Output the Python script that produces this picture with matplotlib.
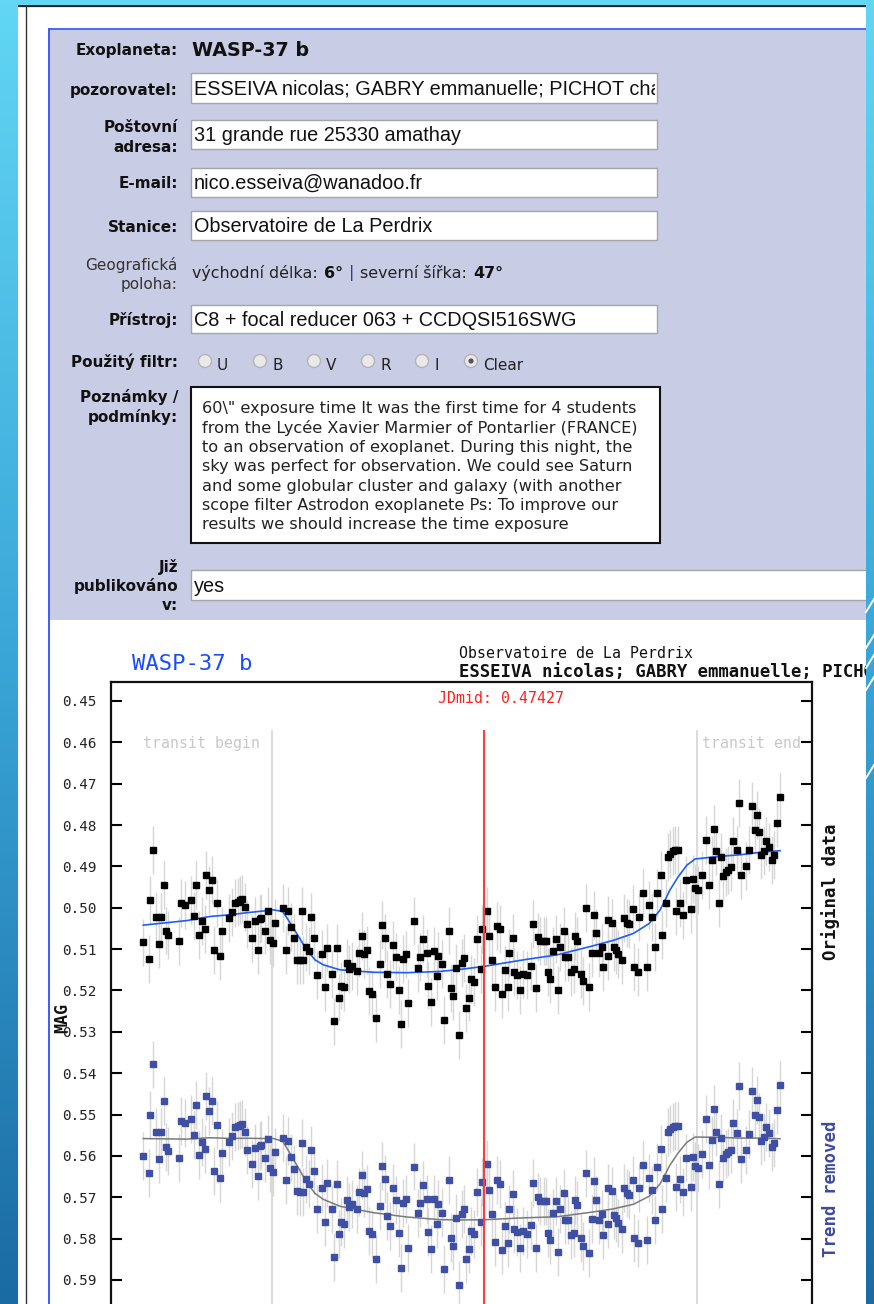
import numpy as np
import matplotlib.pyplot as plt
from matplotlib.patches import Rectangle, Circle
from matplotlib.colors import LinearSegmentedColormap
from matplotlib.transforms import Bbox

# light curve of WASP-37 b: JD fraction and measured magnitude
jd = [0.3834, 0.3850, 0.3854, 0.3862, 0.3869, 0.3878, 0.3881, 0.3889, 0.3895, 0.3902,
      0.3929, 0.3936, 0.3945, 0.3963, 0.3969, 0.3976, 0.3983, 0.3991, 0.3998, 0.4003,
      0.4011, 0.4017, 0.4024, 0.4032, 0.4040, 0.4045, 0.4064, 0.4070, 0.4080, 0.4087,
      0.4092, 0.4097, 0.4106, 0.4112, 0.4125, 0.4132, 0.4140, 0.4146, 0.4149, 0.4160,
      0.4167, 0.4172, 0.4181, 0.4185, 0.4208, 0.4215, 0.4220, 0.4227, 0.4235, 0.4245,
      0.4253, 0.4256, 0.4261, 0.4267, 0.4275, 0.4281, 0.4290, 0.4296, 0.4310, 0.4319,
      0.4323, 0.4338, 0.4343, 0.4350, 0.4357, 0.4361, 0.4368, 0.4376, 0.4383, 0.4390,
      0.4404, 0.4409, 0.4416, 0.4422, 0.4430, 0.4436, 0.4443, 0.4454, 0.4465, 0.4471,
      0.4478, 0.4484, 0.4492, 0.4499, 0.4506, 0.4514, 0.4521, 0.4527, 0.4533, 0.4540,
      0.4554, 0.4567, 0.4572, 0.4579, 0.4589, 0.4593, 0.4601, 0.4609, 0.4616, 0.4619,
      0.4629, 0.4636, 0.4649, 0.4654, 0.4660, 0.4667, 0.4675, 0.4683, 0.4689, 0.4694,
      0.4702, 0.4708, 0.4716, 0.4724, 0.4733, 0.4735, 0.4749, 0.4756, 0.4763, 0.4771,
      0.4776, 0.4784, 0.4790, 0.4798, 0.4804, 0.4809, 0.4818, 0.4822, 0.4830, 0.4837,
      0.4845, 0.4855, 0.4866, 0.4871, 0.4879, 0.4884, 0.4891, 0.4900, 0.4907, 0.4912,
      0.4918, 0.4925, 0.4934, 0.4938, 0.4944, 0.4954, 0.4957, 0.4964, 0.4972, 0.4982,
      0.4984, 0.4990, 0.4999, 0.5006, 0.5013, 0.5021, 0.5029, 0.5033, 0.5039, 0.5048,
      0.5054, 0.5059, 0.5070, 0.5072, 0.5081, 0.5087, 0.5092, 0.5098, 0.5108, 0.5115,
      0.5121, 0.5127, 0.5137, 0.5141, 0.5150, 0.5155, 0.5165, 0.5176, 0.5181, 0.5189,
      0.5196, 0.5202, 0.5212, 0.5216, 0.5225, 0.5230, 0.5235, 0.5243, 0.5250, 0.5253,
      0.5257, 0.5262, 0.5271, 0.5279, 0.5292, 0.5297, 0.5304, 0.5310, 0.5320, 0.5332,
      0.5339, 0.5348, 0.5352, 0.5359, 0.5367, 0.5372, 0.5377, 0.5384, 0.5391, 0.5398,
      0.5405, 0.5415, 0.5419, 0.5426, 0.5439, 0.5447, 0.5453, 0.5461, 0.5467, 0.5473,
      0.5479, 0.5485, 0.5491, 0.5499, 0.5507, 0.5514, 0.5521, 0.5529]
mag = [0.5084, 0.5123, 0.4982, 0.4860, 0.5022, 0.5088, 0.5022, 0.4946, 0.5055, 0.5066,
       0.5080, 0.4989, 0.4993, 0.4982, 0.5019, 0.4946, 0.5066, 0.5033, 0.5051, 0.4921,
       0.4957, 0.4932, 0.5101, 0.4989, 0.5116, 0.5055, 0.5025, 0.5010, 0.4989, 0.4985,
       0.4981, 0.4978, 0.4997, 0.5039, 0.5073, 0.5033, 0.5101, 0.5028, 0.5025, 0.5055,
       0.5007, 0.5078, 0.5086, 0.5037, 0.5000, 0.5101, 0.5007, 0.5046, 0.5073, 0.5126,
       0.5126, 0.5007, 0.5126, 0.5094, 0.5105, 0.5022, 0.5072, 0.5163, 0.5112, 0.5192,
       0.5098, 0.5159, 0.5275, 0.5098, 0.5217, 0.5188, 0.5192, 0.5134, 0.5148, 0.5141,
       0.5152, 0.5109, 0.5069, 0.5112, 0.5101, 0.5202, 0.5209, 0.5267, 0.5137, 0.5041,
       0.5072, 0.5159, 0.5184, 0.5091, 0.5119, 0.5199, 0.5282, 0.5123, 0.5113, 0.5231,
       0.5033, 0.5145, 0.5119, 0.5076, 0.5109, 0.5188, 0.5228, 0.5105, 0.5166, 0.5116,
       0.5137, 0.5271, 0.5055, 0.5195, 0.5213, 0.5145, 0.5307, 0.5133, 0.5122, 0.5242,
       0.5217, 0.5173, 0.5180, 0.5076, 0.5149, 0.5051, 0.5007, 0.5069, 0.5126, 0.5192,
       0.5043, 0.5051, 0.5209, 0.5151, 0.5192, 0.5109, 0.5072, 0.5155, 0.5163, 0.5199,
       0.5159, 0.5163, 0.5141, 0.5040, 0.5195, 0.5071, 0.5080, 0.5080, 0.5080, 0.5155,
       0.5173, 0.5105, 0.5076, 0.5199, 0.5094, 0.5055, 0.5119, 0.5119, 0.5155, 0.5148,
       0.5069, 0.5080, 0.5159, 0.5177, 0.5001, 0.5192, 0.5109, 0.5018, 0.5062, 0.5109,
       0.5094, 0.5144, 0.5116, 0.5029, 0.5036, 0.5094, 0.5101, 0.5112, 0.5126, 0.5025,
       0.5036, 0.5040, 0.5004, 0.5144, 0.5155, 0.5022, 0.4964, 0.5144, 0.4993, 0.5022,
       0.5094, 0.4964, 0.4921, 0.5065, 0.4989, 0.4877, 0.4870, 0.4863, 0.4860, 0.5007,
       0.4860, 0.4989, 0.5018, 0.4934, 0.5004, 0.4931, 0.4953, 0.4957, 0.4921, 0.4835,
       0.4946, 0.4884, 0.4809, 0.4863, 0.4989, 0.4877, 0.4924, 0.4914, 0.4909, 0.4902,
       0.4838, 0.4860, 0.4747, 0.4921, 0.4899, 0.4860, 0.4755, 0.4812, 0.4776, 0.4816,
       0.4873, 0.4863, 0.4838, 0.4852, 0.4884, 0.4873, 0.4794, 0.4733]
MAG_ERR = 0.0058

# fitted transit model (original scale)
model_jd = [0.3835, 0.3951, 0.4013, 0.4066, 0.4110, 0.4163, 0.4181, 0.4206, 0.4221,
            0.4243, 0.4270, 0.4292, 0.4314, 0.4358, 0.4447, 0.4536, 0.4624, 0.4678,
            0.4740, 0.4846, 0.4935, 0.5023, 0.5085, 0.5139, 0.5181, 0.5210, 0.5236,
            0.5258, 0.5281, 0.5303, 0.5334, 0.5378, 0.5422, 0.5476, 0.5529]
model_mag = [0.5042, 0.5031, 0.5021, 0.5017, 0.5012, 0.5007, 0.5005, 0.5009, 0.5030,
             0.5062, 0.5102, 0.5126, 0.5138, 0.5150, 0.5156, 0.5157, 0.5154, 0.5149,
             0.5142, 0.5126, 0.5114, 0.5094, 0.5079, 0.5062, 0.5038, 0.5005, 0.4957,
             0.4925, 0.4897, 0.4882, 0.4879, 0.4875, 0.4872, 0.4866, 0.4862]

# linear trend (plus display offset) taken out for the lower curve
TREND_REF = 0.3834
TREND_ZERO = 0.0516
TREND_SLOPE = 0.1065

JD_MID = 0.47427
T_BEGIN = 0.4177
T_END = 0.5308

W, H = 874, 1304
LABEL_FONT = 'DejaVu Sans'
INPUT_FONT = 'Liberation Sans'
MONO = 'DejaVu Sans Mono'

fig = plt.figure(figsize=(W / 100, H / 100), dpi=100)
fig.patch.set_facecolor('white')

page = fig.add_axes([0, 0, 1, 1])
page.set_xlim(0, W)
page.set_ylim(H, 0)
page.axis('off')
renderer = fig.canvas.get_renderer()


def clip_box(x0, y0, x1, y1):
    # display-space rectangle for clipping text (page units are pixels, y downwards)
    pts = page.transData.transform([(x0, y0), (x1, y1)])
    return Bbox.from_extents(pts[:, 0].min(), pts[:, 1].min(), pts[:, 0].max(), pts[:, 1].max())


# form panel
page.add_patch(Rectangle((49, 29), 866 - 49, 620 - 29, facecolor='#c8cce5', edgecolor='none'))
page.plot([49, 866], [29, 29], color='#4a68f0', lw=1.4)
page.plot([49, 49], [29, H], color='#3a5cff', lw=1.4)
page.plot([18, 866], [6, 6], color='#222222', lw=1.6)
page.plot([26, 26], [6, H], color='#333333', lw=1.0)


def label(lines, ys, bold=True, color='#111111'):
    for s, y in zip(lines, ys):
        page.text(178, y, s, ha='right', va='center', fontsize=11, family=LABEL_FONT,
                  fontweight='bold' if bold else 'normal', color=color)


def field(y0, y1, value, x1=657):
    box = Rectangle((191, y0), x1 - 191, y1 - y0, facecolor='white', edgecolor='#a5a5a5', lw=1.0)
    page.add_patch(box)
    t = page.text(194, (y0 + y1) / 2 + 1, value, ha='left', va='center', fontsize=14.3,
                  family=INPUT_FONT, color='#111111')
    t.set_clip_on(True)
    t.set_clip_box(clip_box(192, y0, x1 - 2, y1))


label(['Exoplaneta:'], [50])
page.text(192, 50, 'WASP-37 b', ha='left', va='center', fontsize=13.8, family=LABEL_FONT,
          fontweight='bold', color='#111111')

label(['pozorovatel:'], [90])
field(73, 103, 'ESSEIVA nicolas; GABRY emmanuelle; PICHOT cha')

label(['Poštovní', 'adresa:'], [127, 147])
field(120, 149, '31 grande rue 25330 amathay')

label(['E-mail:'], [183])
field(168, 197, 'nico.esseiva@wanadoo.fr')

label(['Stanice:'], [227])
field(211, 240, 'Observatoire de La Perdrix')

label(['Geografická', 'poloha:'], [265, 284], bold=False, color='#333333')
# location line: pieces laid out one after another
geo_parts = [('východní délka:', 'normal', '#222222'), ('6°', 'bold', '#111111'),
             ('|', 'normal', '#3a3a8a'), ('severní šířka:', 'normal', '#222222'),
             ('47°', 'bold', '#111111')]
gx = 192
for s, w, c in geo_parts:
    txt = page.text(gx, 273, s, ha='left', va='center', fontsize=11.4, family=LABEL_FONT,
                    fontweight=w, color=c)
    gx += txt.get_window_extent(renderer).width + 6

label(['Přístroj:'], [320])
field(305, 333, 'C8 + focal reducer 063 + CCDQSI516SWG')

label(['Použitý filtr:'], [362])
filters = ['U', 'B', 'V', 'R', 'I', 'Clear']
radio_x = [205, 260, 314, 368, 422, 471]
for f, x in zip(filters, radio_x):
    page.add_patch(Circle((x, 361), 6.5, facecolor='#e9e9e9', edgecolor='#b4b4b4', lw=1.0))
    if f == 'Clear':
        page.add_patch(Circle((x, 361), 2.6, facecolor='#555555', edgecolor='none'))
    page.text(x + 12, 365, f, ha='left', va='center', fontsize=11, family=LABEL_FONT,
              color='#222222')

label(['Poznámky /', 'podmínky:'], [397, 417])
page.add_patch(Rectangle((191, 387), 660 - 191, 543 - 387, facecolor='white',
                         edgecolor='#111111', lw=1.5))
notes = ['60\\" exposure time It was the first time for 4 students',
         'from the Lycée Xavier Marmier of Pontarlier (FRANCE)',
         'to an observation of exoplanet. During this night, the',
         'sky was perfect for observation. We could see Saturn',
         'and some globular cluster and galaxy (with another',
         'scope filter Astrodon exoplanete Ps: To improve our',
         'results we should increase the time exposure']
for i, line in enumerate(notes):
    page.text(202, 409 + 19.3 * i, line, ha='left', va='center', fontsize=11.6,
              family=LABEL_FONT, color='#222222')

label(['Již', 'publikováno', 'v:'], [567, 586, 606])
field(570, 600, 'yes', x1=870)

# chart header
page.text(132, 664, 'WASP-37 b', ha='left', va='center', fontsize=16, family=MONO,
          color='#1a4cff')
page.text(459, 653, 'Observatoire de La Perdrix', ha='left', va='center', fontsize=10.7,
          family=MONO, color='#111111')
observers = page.text(459, 672, 'ESSEIVA nicolas; GABRY emmanuelle; PICHOT cha', ha='left',
                      va='center', fontsize=12.4, family=MONO, fontweight='bold',
                      color='#111111')
observers.set_clip_on(True)
observers.set_clip_box(clip_box(450, 640, 866, 690))
page.text(62, 1018, 'MAG', rotation=90, ha='center', va='center', fontsize=12,
          family=MONO, fontweight='bold', color='#111111')
page.text(831, 892, 'Original data', rotation=90, ha='center', va='center', fontsize=12.5,
          family=MONO, fontweight='bold', color='#111111')
page.text(831, 1189, 'Trend removed', rotation=90, ha='center', va='center',
          fontsize=12.5, family=MONO, fontweight='bold', color='#3c4ba0')

# light curve panel
ax = fig.add_axes([111 / W, 1 - 1330 / H, (812 - 111) / W, (1330 - 682) / H])
ax.set_xlim(0.37492, 0.56139)
ax.set_ylim(0.6021, 0.44541)

t = np.array(jd)
m = np.array(mag)
trend = TREND_ZERO + TREND_SLOPE * (t - TREND_REF)
mt = np.array(model_jd)
mm = np.array(model_mag)
model_trend = TREND_ZERO + TREND_SLOPE * (mt - TREND_REF)

line_top = 0.45725
for x in (T_BEGIN, T_END):
    ax.plot([x, x], [line_top, 0.6021], color='#d8d8d8', lw=1.3, zorder=1)
ax.plot([JD_MID, JD_MID], [line_top, 0.6021], color='#ff3b3b', lw=1.5, zorder=5)

ax.errorbar(t, m, yerr=MAG_ERR, fmt='none', ecolor='#d6d6d6', elinewidth=1.0, zorder=2)
ax.errorbar(t, m + trend, yerr=MAG_ERR, fmt='none', ecolor='#d6d6d6', elinewidth=1.0, zorder=2)
ax.plot(mt, mm, color='#1f5cff', lw=1.2, zorder=3)
ax.plot(mt, mm + model_trend, color='#7a7a7a', lw=1.1, zorder=3)
ax.plot(t, m, 's', color='#000000', markersize=4.5, zorder=4)
ax.plot(t, m + trend, 's', color='#3f4fa3', markersize=4.5, zorder=4)

ax.annotate('JDmid: %.5f' % JD_MID, xy=(JD_MID, 0.4495), xytext=(-46, 0),
            textcoords='offset pixels', ha='left', va='center', fontsize=10.7,
            family=MONO, color='#ff2020')
ax.annotate('transit begin', xy=(T_BEGIN, 0.4604), xytext=(-12, 0),
            textcoords='offset pixels', ha='right', va='center', fontsize=10.7,
            family=MONO, color='#c8c8c8')
ax.annotate('transit end', xy=(T_END, 0.4604), xytext=(5, 0),
            textcoords='offset pixels', ha='left', va='center', fontsize=10.7,
            family=MONO, color='#c8c8c8')

yt = np.round(np.arange(0.45, 0.6001, 0.01), 2)
ax.set_yticks(yt)
ax.set_yticklabels(['%.2f' % v for v in yt], family=MONO, fontsize=10.3, color='#222222')
ax.set_xticks([])
ax.tick_params(axis='y', direction='in', length=8, width=1.5, left=True, right=True,
               labelleft=True, labelright=False, pad=10)
for s in ax.spines.values():
    s.set_linewidth(1.6)
    s.set_color('#111111')

# slide frame around the page
frame = fig.add_axes([0, 0, 1, 1], zorder=10)
frame.patch.set_alpha(0)
frame.axis('off')
blue = LinearSegmentedColormap.from_list('slide', ['#62d6f4', '#3aa6d8', '#1a6ba3'])
grad = np.linspace(0, 1, 256).reshape(-1, 1)
frame.imshow(grad, extent=(0, 18, H, 0), cmap=blue, aspect='auto')
frame.imshow(grad, extent=(866, W, H, 0), cmap=blue, aspect='auto')
frame.add_patch(Rectangle((0, 0), W, 5, facecolor='#62d6f4', edgecolor='none'))
for y in [612, 648, 668, 690, 778]:
    frame.plot([866, W], [y, y - 13], color='white', lw=1.4)
frame.set_xlim(0, W)
frame.set_ylim(H, 0)

fig.savefig('out.png', dpi=100)
